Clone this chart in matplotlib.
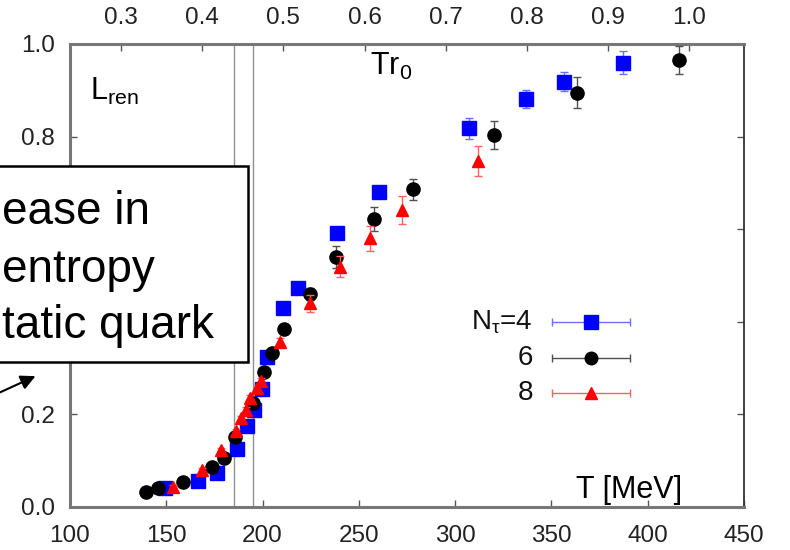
import matplotlib
matplotlib.use('Agg')
import matplotlib.pyplot as plt
from matplotlib.patches import Rectangle, FancyArrowPatch

plt.rcParams['font.family'] = ['Liberation Sans', 'DejaVu Sans']
plt.rcParams['mathtext.fontset'] = 'custom'
plt.rcParams['mathtext.rm'] = 'Liberation Sans'
plt.rcParams['mathtext.it'] = 'Liberation Sans:italic'

# N_tau = 4 (blue squares)
T4 = [149.3, 166.6, 176.3, 186.9, 191.7, 195.7, 199.5, 202.4, 210.4, 218.2, 238.5, 260.6, 307.4, 336.6, 356.6, 386.9]
L4 = [0.040, 0.056, 0.074, 0.125, 0.175, 0.210, 0.255, 0.323, 0.429, 0.474, 0.592, 0.681, 0.818, 0.881, 0.919, 0.960]
E4 = [0.003, 0.004, 0.004, 0.005, 0.005, 0.006, 0.006, 0.007, 0.008, 0.008, 0.009, 0.010, 0.023, 0.019, 0.020, 0.025]

# N_tau = 6 (black circles)
T6 = [139.3, 145.9, 158.8, 173.6, 179.8, 185.5, 195.2, 201.0, 204.7, 211.3, 224.6, 238.2, 258.0, 278.2, 320.1, 363.1, 416.2]
L6 = [0.033, 0.040, 0.053, 0.087, 0.106, 0.152, 0.224, 0.291, 0.332, 0.384, 0.460, 0.540, 0.622, 0.686, 0.803, 0.895, 0.965]
E6 = [0.004, 0.004, 0.004, 0.005, 0.005, 0.006, 0.007, 0.008, 0.008, 0.010, 0.012, 0.023, 0.026, 0.023, 0.030, 0.033, 0.030]

# N_tau = 8 (red triangles)
T8 = [153.4, 168.5, 178.2, 186.0, 188.6, 191.4, 193.5, 196.9, 199.0, 209.0, 224.6, 240.2, 255.8, 272.5, 312.0]
L8 = [0.044, 0.080, 0.123, 0.164, 0.192, 0.210, 0.235, 0.258, 0.272, 0.357, 0.440, 0.519, 0.580, 0.641, 0.747]
E8 = [0.003, 0.004, 0.005, 0.005, 0.005, 0.005, 0.006, 0.006, 0.006, 0.008, 0.018, 0.023, 0.027, 0.030, 0.032]

Tc_band = [185, 195]
r0_MeV = 421.6  # hbar c / r0, r0 = 0.468 fm
top_ticks = [0.3, 0.4, 0.5, 0.6, 0.7, 0.8, 0.9, 1.0]
y_ticks = [0.0, 0.2, 0.4, 0.6, 0.8, 1.0]
y_labels = ['0.0', '0.2', '', '', '0.8', '1.0']  # 0.4 / 0.6 sit under the box

fig = plt.figure(figsize=(7.9, 5.5), dpi=100)
ax = fig.add_axes([0.0886, 0.0782, 0.8532, 0.8418])

for tc in Tc_band:
    ax.axvline(tc, color='#909090', lw=1.0, zorder=1)

series = [
    (T4, L4, E4, 's', 10, '#0000ff', '#6f6fff', r'N$_{\mathrm{τ}}$=4'),
    (T6, L6, E6, 'o', 9.5, 'black', '#505050', '6'),
    (T8, L8, E8, '^', 9, '#ff0000', '#ff6060', '8'),
]
for k, (T, L, E, m, ms, c, ec, lab) in enumerate(series):
    ax.errorbar(T, L, yerr=E, fmt=m, ms=ms, color=c, mec=c, ecolor=ec,
                elinewidth=1.0, capsize=3, capthick=1.0, zorder=3 + k)

# legend drawn by hand (gnuplot style: label right aligned, horizontal bar)
leg_y = [0.400, 0.322, 0.246]
for (T, L, E, m, ms, c, ec, lab), yy in zip(series, leg_y):
    ax.errorbar([0.773], [yy], xerr=[0.058], fmt=m, ms=ms * 0.95, color=c, mec=c,
                ecolor=ec, elinewidth=1.0, capsize=3, capthick=1.0,
                transform=ax.transAxes, zorder=6)
    ax.text(0.687, yy, lab, transform=ax.transAxes, ha='right', va='center',
            fontsize=20, color='#111111')

ax.set_xlim(100, 450)
ax.set_ylim(0, 1.0)
ax.set_xticks([100, 150, 200, 250, 300, 350, 400, 450])
ax.set_yticks(y_ticks)
ax.set_yticklabels(y_labels)
ax.tick_params(axis='x', direction='in', length=5, width=1, pad=13,
               labelsize=17.5, colors='#555555', labelcolor='#222222')
ax.tick_params(axis='y', direction='in', length=5, width=1, pad=11,
               labelsize=17.5, colors='#555555', labelcolor='#222222',
               right=True)

for side in ['left', 'bottom', 'top']:
    ax.spines[side].set_color('#777777')
    ax.spines[side].set_linewidth(2.2)
ax.spines['right'].set_color('#333333')
ax.spines['right'].set_linewidth(1.3)

sec = ax.secondary_xaxis('top', functions=(lambda t: t / r0_MeV, lambda u: u * r0_MeV))
sec.set_xticks(top_ticks)
sec.xaxis.set_major_formatter(matplotlib.ticker.FormatStrFormatter('%.1f'))
sec.tick_params(direction='in', length=5, width=1, pad=11, labelsize=17.5,
                colors='#555555', labelcolor='#222222')
sec.spines['top'].set_visible(False)

ax.text(110.4, 0.879, r'L$_{\rm ren}$', fontsize=22, va='baseline', ha='left')
ax.text(255.8, 0.933, r'Tr$_{\rm 0}$', fontsize=22, va='baseline', ha='left')
ax.text(417.8, 0.019, 'T [MeV]', fontsize=22, va='baseline', ha='right')

# annotation box, partly off the left edge of the picture
box = Rectangle((-0.05, 1 - 362 / 550), 0.05 + 248 / 790, (362 - 166) / 550,
                transform=fig.transFigure, facecolor='white', edgecolor='black',
                lw=1.8, zorder=10)
fig.patches.append(box)
for line, yb in zip(['ease in', 'entropy', 'tatic quark'], [224, 282, 338]):
    fig.text(0.002, 1 - yb / 550, line, fontsize=33, va='baseline', ha='left',
             color='black', zorder=11)

arrow = FancyArrowPatch((-0.01, 1 - 396 / 550), (38 / 790, 1 - 375 / 550),
                        transform=fig.transFigure, arrowstyle='-|>',
                        mutation_scale=22, lw=1.5, color='black', zorder=10)
fig.patches.append(arrow)

plt.savefig('out.png', dpi=100)
